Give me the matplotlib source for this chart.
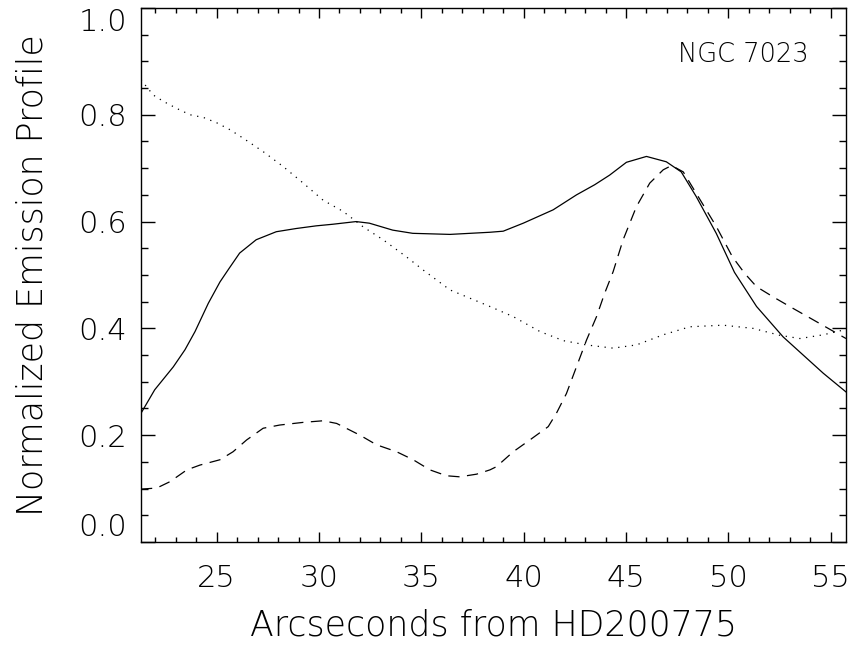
import matplotlib

matplotlib.use("Agg")

import matplotlib.pyplot as plt
from matplotlib.ticker import MultipleLocator

# solid profile
solid_x = [21.3, 21.97, 22.88, 23.45, 23.94, 24.59, 25.16, 25.6, 26.12, 26.93, 27.91, 28.88,
           29.86, 30.67, 31.81, 32.46, 33.6, 34.58, 36.4, 38.35, 39.0, 39.98, 41.44, 42.58,
           43.47, 44.2, 45.02, 46.0, 46.97, 47.7, 48.43, 49.41, 50.3, 51.38, 52.68, 54.64, 55.75]
solid_y = [0.241, 0.285, 0.328, 0.360, 0.394, 0.447, 0.487, 0.512, 0.541, 0.566, 0.581, 0.587,
           0.592, 0.595, 0.600, 0.597, 0.584, 0.578, 0.576, 0.580, 0.582, 0.597, 0.622, 0.650,
           0.669, 0.687, 0.711, 0.722, 0.712, 0.693, 0.647, 0.578, 0.505, 0.441, 0.384, 0.316, 0.281]

# dashed profile
dashed_x = [21.3, 22.07, 22.72, 23.54, 24.18, 25.16, 25.8, 26.46, 27.27, 28.08, 29.23, 30.2,
            30.86, 32.0, 32.81, 33.79, 34.6, 35.42, 36.23, 36.88, 37.7, 38.35, 38.67, 39.49,
            40.3, 41.2, 41.6, 42.09, 42.58, 43.07, 43.56, 43.96, 44.37, 44.86, 45.51, 46.16,
            46.82, 47.23, 47.8, 48.43, 49.41, 50.2, 50.8, 51.38, 52.19, 53.0, 54.15, 55.75]
dashed_y = [0.099, 0.101, 0.113, 0.135, 0.144, 0.154, 0.169, 0.191, 0.213, 0.219, 0.224, 0.227,
            0.222, 0.200, 0.182, 0.169, 0.154, 0.135, 0.124, 0.122, 0.127, 0.135, 0.141, 0.169,
            0.191, 0.216, 0.241, 0.278, 0.328, 0.378, 0.422, 0.466, 0.506, 0.566, 0.628, 0.672,
            0.697, 0.705, 0.693, 0.653, 0.591, 0.534, 0.503, 0.478, 0.459, 0.441, 0.416, 0.381]

# dotted profile
dotted_x = [21.3, 21.5, 21.9, 22.4, 23.04, 23.7, 24.35, 25.0, 25.65, 26.3, 27.27, 28.25,
            29.23, 30.2, 31.18, 32.16, 33.13, 34.27, 35.1, 36.4, 38.35, 39.49, 40.8, 41.94,
            43.07, 44.37, 45.51, 46.82, 48.12, 49.74, 51.21, 52.52, 53.5, 54.64, 55.75]
dotted_y = [0.866, 0.856, 0.837, 0.825, 0.812, 0.800, 0.795, 0.785, 0.772, 0.756, 0.731, 0.703,
            0.672, 0.640, 0.619, 0.590, 0.566, 0.534, 0.509, 0.472, 0.441, 0.422, 0.394, 0.377,
            0.369, 0.363, 0.369, 0.388, 0.403, 0.406, 0.400, 0.387, 0.381, 0.388, 0.398]

x_ticks = [25, 30, 35, 40, 45, 50, 55]
y_ticks = [0.0, 0.2, 0.4, 0.6, 0.8, 1.0]
y_tick_labels = ["0.0", "0.2", "0.4", "0.6", "0.8", "1.0"]

# thin strokes, closer to the Hershey vector font of the original
plt.rcParams["font.weight"] = 200
plt.rcParams["axes.labelweight"] = 200

fig = plt.figure(figsize=(8.56, 6.49), dpi=100)
ax = fig.add_axes([0.1647, 0.1649, 0.8236, 0.8228])

ax.plot(solid_x, solid_y, color="black", lw=0.9, ls="-")
ax.plot(dashed_x, dashed_y, color="black", lw=0.9, ls=(0, (9, 6)))
ax.plot(dotted_x, dotted_y, color="black", lw=0.9, ls=(0, (1, 4.5)))

ax.set_xlim(21.3, 55.75)
ax.set_ylim(0.0, 1.0)
ax.set_xticks(x_ticks)
ax.set_yticks(y_ticks)
ax.set_yticklabels(y_tick_labels)
ax.xaxis.set_minor_locator(MultipleLocator(1))
ax.yaxis.set_minor_locator(MultipleLocator(0.05))

ax.tick_params(which="both", direction="in", top=True, right=True, width=1.0, colors="black")
ax.tick_params(axis="x", which="major", length=7.2, pad=16, labelsize=22)
ax.tick_params(axis="x", which="minor", length=3.6)
ax.tick_params(axis="y", which="major", length=10, pad=10, labelsize=22)
ax.tick_params(axis="y", which="minor", length=5)

# end labels sit inside the axis range, as in the original
ylabels = ax.get_yticklabels()
ylabels[0].set_verticalalignment("bottom")
ylabels[-1].set_verticalalignment("top")

for spine in ax.spines.values():
    spine.set_linewidth(1.0)

ax.set_xlabel("Arcseconds from HD200775", fontsize=25, labelpad=11)
ax.set_ylabel("Normalized Emission Profile", fontsize=25, labelpad=21)

ax.text(0.762, 0.899, "NGC 7023", transform=ax.transAxes, fontsize=18.5,
        ha="left", va="baseline")

fig.savefig("out.png", dpi=100)
